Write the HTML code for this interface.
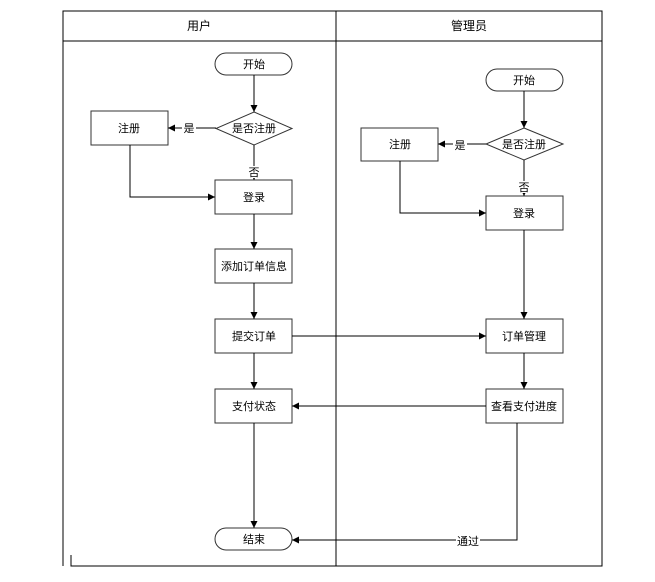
<!DOCTYPE html><html><head><meta charset="utf-8"><style>body{margin:0;background:#fff}svg text{font-family:"Liberation Sans","Noto Sans CJK SC",sans-serif;font-size:11px;fill:#000}</style></head><body>
<svg width="655" height="577" viewBox="0 0 655 577" xmlns="http://www.w3.org/2000/svg">
<defs><marker id="a" markerWidth="8" markerHeight="8" refX="7" refY="4" orient="auto" markerUnits="userSpaceOnUse"><path d="M0,0.5 L7,4 L0,7.5z" fill="#000"/></marker></defs>
<g fill="none" stroke="#000" stroke-width="1">
<path d="M63,566 V11 H602 V566 H71 V555"/>
<path d="M63,41 H602 M336,11 V566"/>
<g stroke="#333">
<rect x="215" y="53" width="77" height="22" rx="11"/>
<path d="M254,112 L292,128.5 L254,145 L216,128.5z"/>
<rect x="91" y="111" width="77" height="34"/>
<rect x="215" y="180" width="77" height="34"/>
<rect x="215" y="249" width="77" height="34"/>
<rect x="215" y="319" width="77" height="34"/>
<rect x="215" y="389" width="77" height="34"/>
<rect x="215" y="528" width="77" height="22" rx="11"/>
<rect x="486" y="69" width="77" height="22" rx="11"/>
<path d="M524,128 L563,144 L524,160 L486,144z"/>
<rect x="361" y="128" width="77" height="33"/>
<rect x="486" y="196" width="77" height="34"/>
<rect x="486" y="319" width="77" height="34"/>
<rect x="486" y="389" width="77" height="34"/>
</g>
<g marker-end="url(#a)">
<path d="M254,75 V112"/><path d="M216,128 H168"/><path d="M254,145 V180"/>
<path d="M130,145 V197 H215"/><path d="M254,214 V249"/><path d="M254,283 V319"/><path d="M254,353 V389"/><path d="M254,423 V528"/>
<path d="M292,336 H486"/><path d="M486,406 H292"/><path d="M517,423 V540 H292"/>
<path d="M524,91 V128"/><path d="M486,144 H438"/><path d="M400,161 V213 H486"/>
<path d="M524,160 V196"/>
<path d="M524,230 V319"/><path d="M524,353 V389"/>
</g></g>
<g fill="#fff"><rect x="248" y="166" width="12" height="12"/><rect x="518" y="181" width="12" height="12"/><rect x="182" y="122" width="14" height="12"/><rect x="453" y="138" width="14" height="12"/><rect x="456" y="535" width="24" height="12"/></g>
<g text-anchor="middle">
<text x="199" y="30" style="font-size:12px">用户</text><text x="469" y="30" style="font-size:12px">管理员</text>
<text x="254" y="68">开始</text><text x="254" y="132">是否注册</text><text x="129" y="132">注册</text>
<text x="189" y="132">是</text><text x="254" y="176">否</text>
<text x="254" y="201">登录</text><text x="254" y="270">添加订单信息</text><text x="254" y="340">提交订单</text>
<text x="254" y="410">支付状态</text><text x="254" y="543">结束</text>
<text x="524" y="84">开始</text><text x="524" y="148">是否注册</text><text x="400" y="148">注册</text>
<text x="460" y="149">是</text><text x="524" y="191">否</text>
<text x="524" y="217">登录</text><text x="524" y="340">订单管理</text><text x="524" y="410">查看支付进度</text>
<text x="468" y="545">通过</text>
</g>
</svg></body></html>
